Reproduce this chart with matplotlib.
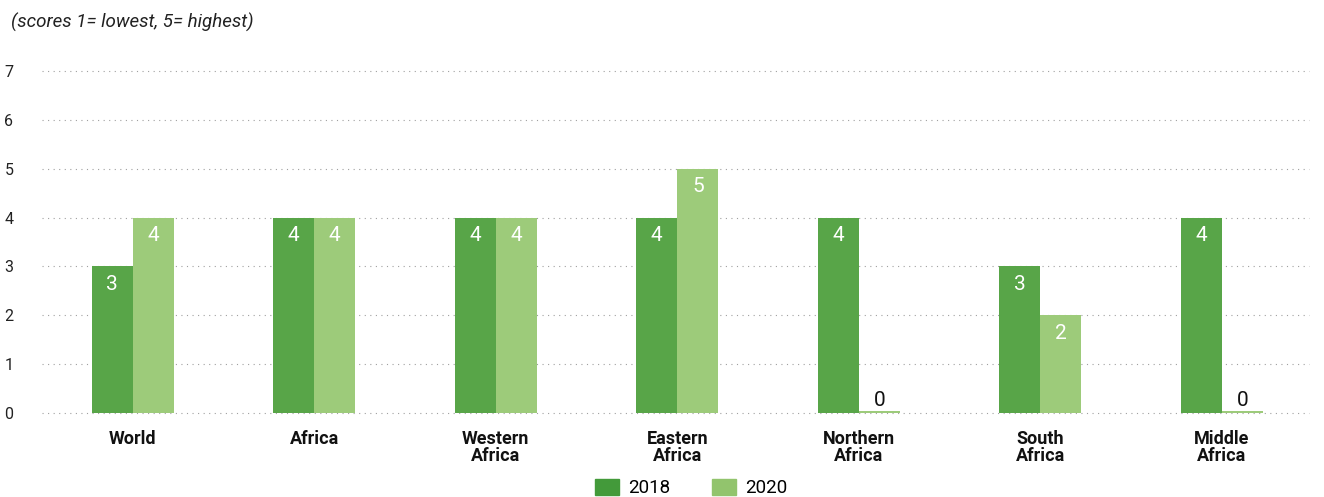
import matplotlib.pyplot as plt
import numpy as np
from matplotlib.patches import Patch

plt.rcParams['font.family'] = ['Roboto', 'DejaVu Sans']

# data
regions = ['World', 'Africa', 'Western\nAfrica', 'Eastern\nAfrica', 'Northern\nAfrica', 'South\nAfrica', 'Middle\nAfrica']
scores_2018 = [3, 4, 4, 4, 4, 3, 4]
scores_2020 = [4, 4, 4, 5, 0, 2, 0]

c2018 = '#58a548'
c2020 = '#9dcb7a'

fig = plt.figure(figsize=(13.24, 4.97), dpi=100)
ax = fig.add_axes([0.0317, 0.169, 0.957, 0.688])

x = np.arange(len(regions))
w = 0.226
# zero values still get a thin sliver so they show
h18 = [max(v, 0.04) for v in scores_2018]
h20 = [max(v, 0.04) for v in scores_2020]
ax.bar(x - w / 2, h18, w, color=c2018, zorder=2)
ax.bar(x + w / 2, h20, w, color=c2020, zorder=2)

for xs, vals in [(x - w / 2, scores_2018), (x + w / 2, scores_2020)]:
    for xi, v in zip(xs, vals):
        if v > 0:
            ax.text(xi, v - 0.17, str(v), ha='center', va='top', color='white', fontsize=15, zorder=4)
        else:
            ax.text(xi, 0.07, str(v), ha='center', va='bottom', color='#111111', fontsize=15, zorder=4)

ax.set_xlim(-0.5, 6.48)
ax.set_ylim(0, 7)
ax.set_yticks(range(8))
ax.yaxis.grid(True, linestyle=(0, (1, 4)), color='#888888', linewidth=0.8, zorder=3, alpha=0.8)
for gl in ax.get_ygridlines():
    gl.set_clip_on(False)
ax.set_xticks(x)
ax.set_xticklabels(regions, fontsize=13, fontweight='bold', color='#111111', linespacing=0.95)
ax.tick_params(axis='x', length=0, pad=12)
ax.tick_params(axis='y', length=0, pad=27, labelsize=11.5, labelcolor='#222222')
for lab in ax.get_yticklabels():
    lab.set_horizontalalignment('left')
for s in ax.spines.values():
    s.set_visible(False)

fig.text(0.008, 0.955, '(scores 1= lowest, 5= highest)', fontsize=13.5, style='italic', color='#222222', va='center')

handles = [Patch(color='#439a3a', label='2018'), Patch(color='#92c46d', label='2020')]
fig.legend(handles=handles, loc='center', bbox_to_anchor=(0.522, 0.018), ncol=2, frameon=False,
           fontsize=13.5, handlelength=1.3, handleheight=1.0, columnspacing=2.2, handletextpad=0.5)

plt.savefig('out.png', dpi=100)
